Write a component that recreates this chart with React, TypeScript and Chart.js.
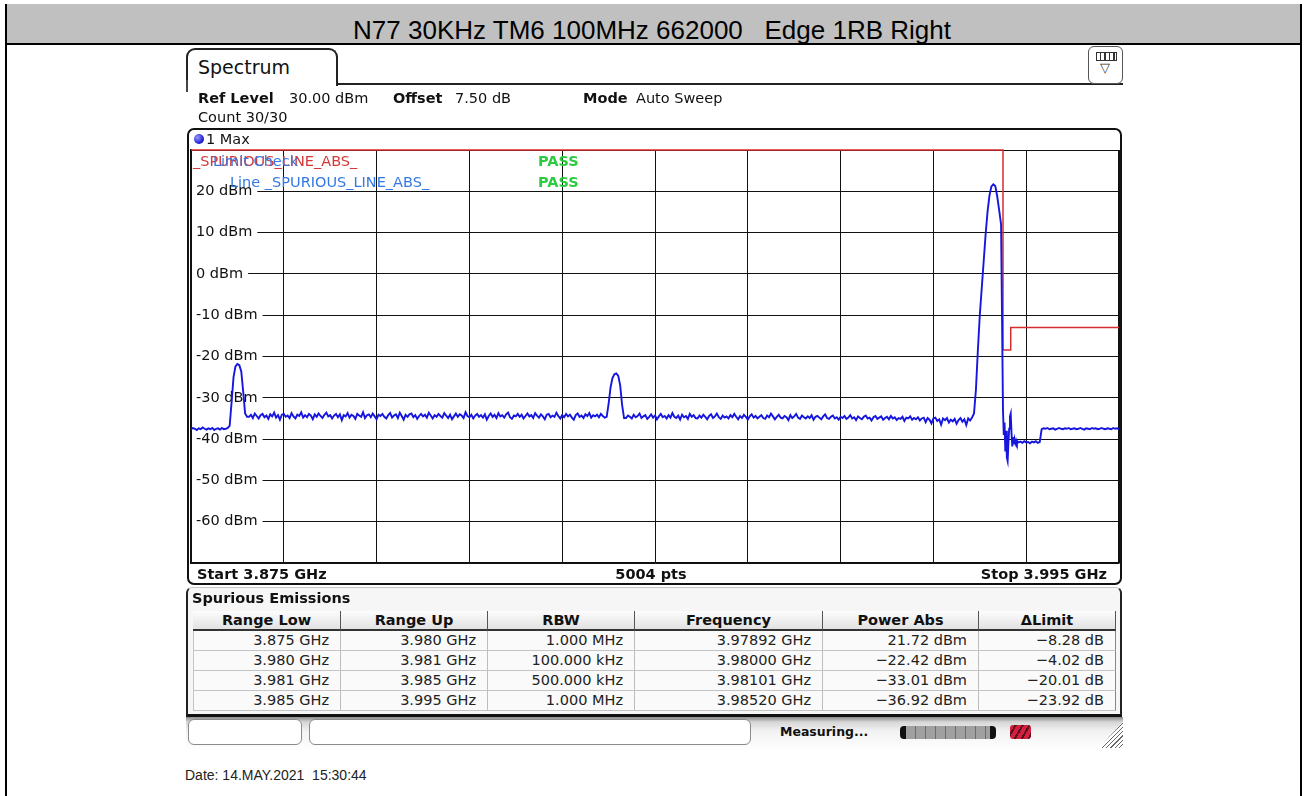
import React, { useEffect, useRef } from "react";
import { Chart, registerables } from "chart.js";

Chart.register(...registerables);

// ---------------- DATA ----------------
const titleText = "N77 30KHz TM6 100MHz 662000   Edge 1RB Right";

const xGridGHz = [3.875, 3.887, 3.899, 3.911, 3.923, 3.935, 3.947, 3.959, 3.971, 3.983, 3.995];
const yGridDbm = [-70, -60, -50, -40, -30, -20, -10, 0, 10, 20, 30];
const yLabelDbm = [20, 10, 0, -10, -20, -30, -40, -50, -60];

const SWEEP_STEP_GHZ = 0.00025;
const RING_STEP_GHZ = 0.0001;

const floorLeftStart = 3.875;
const floorLeft = [
  -37.6, -37.3, -37.5, -37.8, -37.4, -37.6, -37.2, -37.5, -37.7, -37.4,
  -37.6, -37.3, -37.8, -37.5, -37.4, -37.7, -37.3, -37.6, -37.5, -37.3,
];

const spike1Start = 3.88;
const spike1 = [-36.8, -31, -25, -22.4, -21.8, -22.1, -23.6, -28.5, -33.8, -34.6];

const noise1Start = 3.8825;
const noise1 = [
  -34.6, -34.1, -34.9, -33.8, -34.4, -35.0, -34.2, -33.9, -34.7, -34.3,
  -35.1, -34.0, -34.5, -33.6, -34.8, -34.2, -35.3, -34.1, -33.9, -34.6,
  -34.3, -34.9, -33.7, -34.5, -35.0, -34.1, -34.4, -33.5, -34.8, -34.2,
  -34.7, -33.9, -34.3, -35.2, -34.0, -34.6, -33.8, -34.4, -34.9, -34.1,
  -33.6, -34.5, -34.2, -35.0, -34.3, -33.9, -34.7, -34.0, -35.4, -34.2,
  -34.5, -33.7, -34.8, -34.1, -34.4, -35.1, -33.9, -34.3, -34.6, -33.5,
  -34.9, -34.2, -34.0, -34.7, -33.8, -34.5, -35.2, -34.1, -34.4, -33.9,
  -34.6, -35.0, -34.2, -33.7, -34.8, -34.3, -34.0, -34.9, -33.6, -34.4,
  -35.3, -34.1, -34.6, -34.0, -33.8, -34.7, -34.2, -35.1, -34.4, -33.9,
  -34.5, -34.1, -34.8, -33.6, -34.3, -35.0, -34.2, -34.6, -33.9, -34.4,
  -34.8, -33.7, -34.3, -34.9, -34.1, -35.2, -34.5, -33.8, -34.6, -34.0,
  -34.3, -34.9, -33.5, -34.4, -34.7, -34.1, -35.0, -34.3, -33.9, -34.6,
  -34.2, -34.8, -34.0, -35.3, -34.4, -33.8, -34.6, -34.1, -34.9, -33.7,
  -34.5, -34.2, -34.8, -34.0, -33.6, -34.7, -35.1, -34.3, -34.5, -33.9,
  -34.6, -34.1, -35.0, -34.4, -33.8, -34.5, -34.2, -34.9, -33.7, -34.3,
  -34.8, -34.0, -34.5, -35.2, -34.1, -33.9, -34.7, -34.3, -34.6, -33.6,
  -34.4, -35.0, -34.2, -34.7, -33.9, -34.5, -34.1, -34.8, -35.3, -34.2,
  -33.8, -34.6, -34.3, -34.9, -34.0, -34.4, -33.7, -34.8, -34.2, -34.5,
  -34.1, -34.7, -33.9, -34.4, -34.8,
];

const spike2Start = 3.92875;
const spike2 = [-34.6, -31.5, -27.5, -25.2, -24.3, -24.1, -24.7, -27, -31.8, -34.9];

const noise2Start = 3.93125;
const noise2 = [
  -34.9, -34.3, -34.6, -35.0, -34.1, -34.7, -34.4, -33.8, -34.9, -34.5,
  -34.2, -35.1, -34.6, -34.0, -34.8, -34.3, -35.2, -34.5, -33.9, -34.7,
  -34.4, -35.0, -34.2, -34.8, -33.7, -34.6, -34.9, -34.3, -35.3, -34.1,
  -34.7, -34.4, -35.1, -33.9, -34.6, -34.2, -34.9, -35.0, -34.3, -34.8,
  -34.1, -34.6, -35.2, -34.4, -34.0, -34.9, -34.5, -33.8, -34.7, -35.1,
  -34.3, -34.8, -34.5, -35.0, -34.2, -34.7, -33.9, -34.6, -35.2, -34.4,
  -34.9, -34.1, -34.6, -35.3, -34.5, -34.0, -34.8, -34.4, -35.0, -34.6,
  -34.2, -34.9, -35.1, -34.3, -34.7, -33.8, -34.5, -35.2, -34.6, -34.1,
  -34.8, -35.0, -34.4, -34.7, -35.4, -34.2, -34.9, -34.5, -33.9, -34.8,
  -35.1, -34.3, -34.7, -35.0, -34.5, -34.9, -34.2, -35.3, -34.6, -34.4,
  -34.8, -35.2, -34.5, -34.0, -34.9, -35.1, -34.6, -34.3, -35.0, -34.7,
  -35.3, -34.6, -34.9, -34.4, -35.1, -34.8, -34.2, -35.0, -34.7, -35.4,
  -34.5, -34.9, -35.2, -34.6, -34.3, -35.0, -34.8, -35.5, -34.7, -34.4,
  -35.1, -34.8, -34.5, -35.3, -34.9, -34.6, -35.2, -34.4, -35.0, -34.7,
  -35.4, -34.9, -35.1, -34.6, -35.6, -34.8, -35.0, -34.5, -35.3, -34.9,
  -35.2, -34.7, -35.5, -35.0, -34.8, -35.9, -34.9, -35.3, -36.2, -35.0,
  -34.8, -35.6, -35.2, -36.5, -35.0, -35.4, -34.9, -36.0, -35.3, -35.7,
  -35.1, -36.3, -35.4, -34.9, -35.8, -35.2, -36.6, -35.0, -35.5, -34.8,
];

const carrierStart = 3.97625;
const carrier = [-33.8, -28, -18.5, -10, -3.5, 3, 9.5, 15, 19, 21.2, 21.7, 21.3, 18.8, 15.5, 12];

const ringStart = 3.98;
const ring = [
  -33, -39, -36, -43, -38, -44.5, -45.3, -41, -37.5, -34.5, -33.8,
  -38.5, -41.8, -39.5, -41.2, -40, -41, -40.4, -41.1, -40.6, -40.8,
];

const floor500kStart = 3.98225;
const floor500k = [-40.6, -40.9, -40.5, -40.8, -40.7, -41.0, -40.6, -40.8, -40.5, -40.9, -40.7];

const floorRightStart = 3.985;
const floorRight = [
  -37.6, -37.4, -37.5, -37.3, -37.6, -37.5, -37.4, -37.7, -37.5, -37.3,
  -37.5, -37.6, -37.4, -37.5, -37.3, -37.6, -37.5, -37.4, -37.6, -37.5,
  -37.3, -37.5, -37.7, -37.4, -37.5, -37.6, -37.3, -37.5, -37.4, -37.6,
  -37.5, -37.3, -37.5, -37.6, -37.4, -37.5, -37.6, -37.3, -37.5, -37.4,
  -37.6,
];

const limitFreqGHz = [3.875, 3.98, 3.98, 3.981, 3.981, 3.995];
const limitLevelDbm = [30, 30, -18.4, -18.4, -13, -13];

const tableHeaders = ["Range Low", "Range Up", "RBW", "Frequency", "Power Abs", "ΔLimit"];
const rangeLow = ["3.875 GHz", "3.980 GHz", "3.981 GHz", "3.985 GHz"];
const rangeUp = ["3.980 GHz", "3.981 GHz", "3.985 GHz", "3.995 GHz"];
const rbw = ["1.000 MHz", "100.000 kHz", "500.000 kHz", "1.000 MHz"];
const peakFreq = ["3.97892 GHz", "3.98000 GHz", "3.98101 GHz", "3.98520 GHz"];
const powerAbs = ["21.72 dBm", "−22.42 dBm", "−33.01 dBm", "−36.92 dBm"];
const deltaLimit = ["−8.28 dB", "−4.02 dB", "−20.01 dB", "−23.92 dB"];

// ---------------- LAYOUT ----------------
const UI = '"DejaVu Sans", Verdana, sans-serif';
const ARIAL = '"Liberation Sans", Arial, sans-serif';
const COL_EDGES = [193, 341, 488, 635, 823, 979, 1116];
const ROW_TOPS = [631, 651, 671, 691, 711];

type TP = {
  x: number; cy: number; children: React.ReactNode; size?: number; bold?: boolean;
  color?: string; align?: "left" | "right" | "center"; font?: string; z?: number;
};
function T({ x, cy, children, size = 14.5, bold = false, color = "#111", align = "left", font = UI, z = 3 }: TP) {
  const h = 30;
  const s: React.CSSProperties = {
    position: "absolute", top: cy - h / 2, height: h, lineHeight: h + "px", fontFamily: font,
    fontSize: size, fontWeight: bold ? "bold" : "normal", color, whiteSpace: "pre", zIndex: z,
  };
  if (align === "left") s.left = x;
  else if (align === "right") s.right = 1304 - x;
  else { s.left = x; s.transform = "translateX(-50%)"; }
  return <div style={s}>{children}</div>;
}

function Box(p: { l: number; t: number; w: number; h: number; style?: React.CSSProperties; children?: React.ReactNode }) {
  return (
    <div style={{ position: "absolute", left: p.l, top: p.t, width: p.w, height: p.h, boxSizing: "border-box", ...p.style }}>
      {p.children}
    </div>
  );
}

function SpectrumChart() {
  const ref = useRef<HTMLCanvasElement>(null);
  useEffect(() => {
    const segments: [number, number, number[]][] = [
      [floorLeftStart, SWEEP_STEP_GHZ, floorLeft],
      [spike1Start, SWEEP_STEP_GHZ, spike1],
      [noise1Start, SWEEP_STEP_GHZ, noise1],
      [spike2Start, SWEEP_STEP_GHZ, spike2],
      [noise2Start, SWEEP_STEP_GHZ, noise2],
      [carrierStart, SWEEP_STEP_GHZ, carrier],
      [ringStart, RING_STEP_GHZ, ring],
      [floor500kStart, SWEEP_STEP_GHZ, floor500k],
      [floorRightStart, SWEEP_STEP_GHZ, floorRight],
    ];
    const tracePoints = segments.flatMap(([start, step, lv]) =>
      lv.map((y, i) => ({ x: +(start + i * step).toFixed(6), y }))
    );
    const limitPoints = limitFreqGHz.map((x, i) => ({ x, y: limitLevelDbm[i] }));

    const chart = new Chart(ref.current!, {
      type: "line",
      data: {
        datasets: [
          { data: tracePoints, borderColor: "rgb(22,22,222)", borderWidth: 1.9, pointRadius: 0, tension: 0, fill: false },
          { data: limitPoints, borderColor: "rgb(214,46,46)", borderWidth: 1.5, pointRadius: 0, tension: 0, fill: false, clip: false },
        ],
      },
      options: {
        animation: false,
        responsive: false,
        maintainAspectRatio: false,
        events: [],
        layout: { padding: 20 },
        plugins: { legend: { display: false }, tooltip: { enabled: false } },
        scales: {
          x: {
            type: "linear",
            min: xGridGHz[0],
            max: xGridGHz[xGridGHz.length - 1],
            afterBuildTicks: (s: any) => { s.ticks = xGridGHz.map((v) => ({ value: v })); },
            afterFit: (s: any) => { s.height = 0; },
            ticks: { display: false },
            grid: {
              color: "#111",
              lineWidth: (c: any) => (c.index === xGridGHz.length - 1 ? 2 : 1),
              drawTicks: false,
            },
            border: { display: true, color: "#111", width: 1.5 },
          },
          y: {
            type: "linear",
            min: yGridDbm[0],
            max: yGridDbm[yGridDbm.length - 1],
            afterBuildTicks: (s: any) => { s.ticks = yGridDbm.map((v) => ({ value: v })); },
            afterFit: (s: any) => { s.width = 0; },
            ticks: {
              mirror: true,
              padding: 5,
              color: "#111",
              font: { family: "DejaVu Sans", size: 14.5 },
              callback: (v: any) => (yLabelDbm.includes(Number(v)) ? `${v} dBm` : ""),
              showLabelBackdrop: (c: any) => !!(c.tick && c.tick.label),
              backdropColor: "#ffffff",
              backdropPadding: { left: 4, right: 5, top: 0, bottom: 0 },
            } as any,
            grid: { color: "#111", lineWidth: 1, drawTicks: false },
            border: { display: true, color: "#111", width: 2 },
          },
        },
      },
    });
    return () => chart.destroy();
  }, []);
  return (
    <canvas
      ref={ref}
      width={968}
      height={453}
      style={{ position: "absolute", left: 171, top: 130, width: 968, height: 453, zIndex: 2 }}
    />
  );
}

export default function App() {
  const rows = rangeLow.map((_, r) => [rangeLow[r], rangeUp[r], rbw[r], peakFreq[r], powerAbs[r], deltaLimit[r]]);
  return (
    <div style={{ position: "absolute", left: 0, top: 0, width: 1304, height: 796, overflow: "hidden", background: "#fff" }}>
      {/* outer frame + title */}
      <Box l={5} t={4} w={1297} h={39} style={{ background: "#c0c0c0" }} />
      <Box l={5} t={43} w={1297} h={2} style={{ background: "#000" }} />
      <Box l={5} t={4} w={2} h={792} style={{ background: "#000" }} />
      <Box l={1300} t={4} w={2} h={792} style={{ background: "#000" }} />
      <T x={652} cy={30} size={26} font={ARIAL} color="#000" align="center">{titleText}</T>

      {/* Spectrum tab */}
      <Box l={186} t={48} w={152} h={38} style={{ border: "2px solid #222", borderBottom: "none", borderRadius: "9px 9px 0 0", background: "#fff" }} />
      <Box l={186} t={80} w={2} h={12} style={{ background: "#444" }} />
      <Box l={337} t={83} w={786} h={2} style={{ background: "#222" }} />
      <T x={198} cy={67} size={19}>Spectrum</T>
      <Box l={1088} t={46} w={35} h={38} style={{ border: "1.5px solid #555", borderRadius: 6, background: "#fff" }}>
        <div style={{ position: "absolute", left: 7, top: 5, width: 19, height: 7, border: "1.5px solid #333", background: "repeating-linear-gradient(to right,#fff 0 3px,#333 3px 4.5px)" }} />
        <div style={{ position: "absolute", left: 0, width: 32, top: 13, textAlign: "center", fontSize: 13, fontFamily: UI, color: "#333" }}>▽</div>
      </Box>

      {/* header info */}
      <T x={198} cy={98} bold>Ref Level</T>
      <T x={289} cy={98}>30.00 dBm</T>
      <T x={393} cy={98} bold>Offset</T>
      <T x={455} cy={98}>7.50 dB</T>
      <T x={583} cy={98} bold>Mode</T>
      <T x={636} cy={98}>Auto Sweep</T>
      <T x={198} cy={117}>Count 30/30</T>

      {/* diagram frame */}
      <Box l={187} t={128} w={935} h={457} style={{ border: "2px solid #111", borderRadius: 7, background: "#fff", zIndex: 1 }} />
      <div style={{ position: "absolute", left: 194, top: 134, width: 10, height: 10, borderRadius: "50%", zIndex: 3, background: "radial-gradient(circle at 35% 35%, #9a9aff, #1414c8 70%)" }} />
      <T x={206} cy={139}>1 Max</T>

      <SpectrumChart />

      {/* limit line annotations */}
      <T x={193} cy={161} color="rgb(212,56,56)">_SPURIOUS_LINE_ABS_</T>
      <T x={213} cy={161} color="rgb(52,120,228)">Limit Check</T>
      <T x={538} cy={161} bold color="rgb(44,204,64)">PASS</T>
      <T x={230} cy={182} color="rgb(52,120,228)">Line _SPURIOUS_LINE_ABS_</T>
      <T x={538} cy={182} bold color="rgb(44,204,64)">PASS</T>

      {/* bottom axis info */}
      <T x={197} cy={574} bold>Start 3.875 GHz</T>
      <T x={651} cy={574} bold align="center">5004 pts</T>
      <T x={1107} cy={574} bold align="right">Stop 3.995 GHz</T>

      {/* spurious emissions table */}
      <Box l={186} t={587} w={936} h={130} style={{ borderLeft: "2px solid #222", borderRight: "2px solid #222", borderTop: "1px solid #c8c8c8", borderBottom: "3px solid #111", borderRadius: "6px 6px 0 0", background: "#f6f6f6" }} />
      <T x={192} cy={598} bold>Spurious Emissions</T>
      {tableHeaders.map((h, c) => (
        <Box key={"h" + c} l={COL_EDGES[c]} t={611} w={COL_EDGES[c + 1] - COL_EDGES[c]} h={20}
          style={{ background: "linear-gradient(#fdfdfd,#e2e2e2)", borderRight: "1.5px solid #555", borderBottom: "2px solid #333", zIndex: 2,
            fontFamily: UI, fontSize: 14.5, fontWeight: "bold", textAlign: "center", lineHeight: "19px", color: "#111" }}>
          {h}
        </Box>
      ))}
      {rows.map((row, r) =>
        row.map((v, c) => (
          <Box key={r + "-" + c} l={COL_EDGES[c]} t={ROW_TOPS[r]} w={COL_EDGES[c + 1] - COL_EDGES[c]} h={ROW_TOPS[r + 1] - ROW_TOPS[r]}
            style={{ background: "#fafafa", borderRight: c === 5 ? "1.5px solid #888" : "1px solid #bdbdbd", borderBottom: "1px solid #c4c4c4", zIndex: 2,
              borderLeft: c === 0 ? "1px solid #c4c4c4" : undefined,
              fontFamily: UI, fontSize: 14.5, textAlign: "right", paddingRight: 11, lineHeight: "19px", color: "#222" }}>
            {v}
          </Box>
        ))
      )}

      {/* status bar */}
      <Box l={186} t={717} w={937} h={34} style={{ background: "linear-gradient(to bottom,#8a8a8a 0px,#d6d6d6 5px,#f2f2f2 14px,#ffffff 34px)" }} />
      <Box l={188} t={719} w={114} h={26} style={{ border: "1px solid #8a8a8a", borderRadius: 6, background: "#fff" }} />
      <Box l={309} t={719} w={442} h={26} style={{ border: "1px solid #8a8a8a", borderRadius: 6, background: "#fff" }} />
      <T x={780} cy={732} bold size={12.5}>Measuring...</T>
      <Box l={900} t={726} w={96} h={13} style={{ borderRadius: 4, background: "repeating-linear-gradient(to right,#a0a0a0 0 9px,#6c6c6c 9px 10px)", borderLeft: "6px solid #111", borderRight: "6px solid #111" }} />
      <Box l={1010} t={725} w={21} h={14} style={{ borderRadius: 3, background: "repeating-linear-gradient(120deg,#d4203c 0 4px,#5a1020 4px 6px)" }} />
      <Box l={1099} t={722} w={24} h={26} style={{ clipPath: "polygon(100% 0,100% 100%,0 100%)", background: "repeating-linear-gradient(135deg,#fff 0 2px,#666 2px 3px)" }} />

      <T x={185} cy={775} size={14} font={ARIAL} color="#222">Date: 14.MAY.2021  15:30:44</T>
    </div>
  );
}
